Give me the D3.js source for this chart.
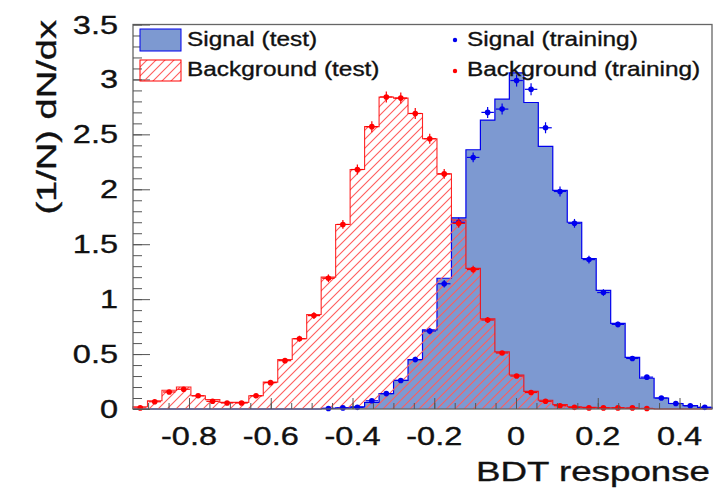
<!DOCTYPE html>
<html lang="en">
<head>
    <meta charset="UTF-8">
    <title> BDT response </title>
    <style>
        body { margin: 0; background: #fff; }
        text { font-family: "Liberation Sans", Arial, Helvetica, sans-serif; fill: #111; stroke: #111; stroke-width: 0.35; }
    </style>
</head>
<body>
    <div id="svg-container"></div>
    <script src="https://cdnjs.cloudflare.com/ajax/libs/d3/7.8.5/d3.min.js"></script>
    <script>
        // histogram range and binning (40 bins)
        const xMin = -0.937, xMax = 0.4795, nBins = 40;

        // normalised bin contents
        const sigTest = [0,0,0,0,0,0,0,0,0,0,0,0,0,0.005,0.01,0.02,0.06,0.14,0.26,0.45,
                         0.72,1.19,1.74,2.36,2.63,2.82,3.06,2.79,2.39,1.99,1.70,1.37,1.08,0.78,0.47,0.28,0.10,0.05,0.03,0.015];
        const bkgTest = [0.02,0.075,0.17,0.2,0.12,0.085,0.06,0.06,0.12,0.245,0.45,0.64,0.86,1.2,1.68,2.18,2.57,2.84,2.83,2.69,
                         2.46,2.14,1.72,1.28,0.82,0.52,0.31,0.16,0.08,0.04,0.02,0.015,0.01,0.01,0.005,0.005,0,0,0,0];
        const sigTrain = [null,null,null,null,null,null,null,null,null,null,null,null,null,0.005,0.01,0.015,0.075,0.14,0.26,0.45,
                          0.71,1.14,1.70,2.29,2.70,2.73,2.99,2.91,2.56,1.98,1.69,1.36,1.06,0.77,0.46,0.29,0.10,0.05,0.03,0.015];
        const sigTrainErr = [0,0,0,0,0,0,0,0,0,0,0,0,0,0.003,0.005,0.007,0.012,0.015,0.02,0.025,
                             0.03,0.035,0.04,0.045,0.05,0.05,0.055,0.055,0.05,0.045,0.04,0.035,0.03,0.025,0.02,0.015,0.01,0.007,0.005,0.004];
        const bkgTrain = [0.01,0.066,0.155,0.18,0.12,0.07,0.055,0.055,0.12,0.24,0.44,0.64,0.85,1.19,1.68,2.18,2.57,2.84,2.83,2.69,
                          2.46,2.14,1.69,1.27,0.81,0.51,0.30,0.15,0.07,0.03,0.015,0.01,0.01,0.01,0.01,0.005,null,null,null,null];
        const bkgTrainErr = [0.005,0.01,0.015,0.015,0.012,0.01,0.008,0.008,0.012,0.017,0.022,0.027,0.03,0.035,0.04,0.045,0.05,0.05,0.05,0.05,
                             0.045,0.045,0.04,0.035,0.028,0.022,0.017,0.012,0.008,0.006,0.004,0.003,0.003,0.003,0.003,0.002,0,0,0,0];

        const xTicks = [-0.8, -0.6, -0.4, -0.2, 0, 0.2, 0.4];
        const xTickLabels = ["-0.8", "-0.6", "-0.4", "-0.2", "0", "0.2", "0.4"];
        const yTicks = [0, 0.5, 1, 1.5, 2, 2.5, 3, 3.5];
        const yTickLabels = ["0", "0.5", "1", "1.5", "2", "2.5", "3", "3.5"];

        const W = 723, H = 492;
        const sigFill = "#7d99d1", sigLine = "#0000ee", bkgLine = "#ff0000";

        const svg = d3.select('#svg-container')
            .append('svg')
            .attr('width', W)
            .attr('height', H);

        const x = d3.scaleLinear().domain([xMin, xMax]).range([133, 712]);
        const y = d3.scaleLinear().domain([0, 3.5]).range([409, 24.5]);
        const bw = (xMax - xMin) / nBins;
        const edge = i => xMin + i * bw;

        // hatch pattern for background
        svg.append('defs').append('pattern')
            .attr('id', 'hatch')
            .attr('patternUnits', 'userSpaceOnUse')
            .attr('width', 9).attr('height', 9)
            .append('path')
            .attr('d', 'M-2,11 L11,-2 M-2,2 L2,-2 M7,11 L11,7')
            .attr('stroke', '#ff5c5c')
            .attr('stroke-width', 1.1);

        function stepPts(vals) {
            const pts = vals.map((v, i) => [edge(i), v]);
            pts.push([edge(nBins), vals[nBins - 1]]);
            return pts;
        }
        const area = d3.area().curve(d3.curveStepAfter)
            .x(d => x(d[0])).y0(y(0)).y1(d => y(d[1]));
        function outline(vals) {
            const p = d3.path();
            p.moveTo(x(edge(0)), y(0));
            vals.forEach((v, i) => {
                p.lineTo(x(edge(i)), y(v));
                p.lineTo(x(edge(i + 1)), y(v));
            });
            p.lineTo(x(edge(nBins)), y(0));
            return p.toString();
        }

        const plot = svg.append('g');

        // signal (test)
        plot.append('path').attr('d', area(stepPts(sigTest))).attr('fill', sigFill);
        plot.append('path').attr('d', outline(sigTest))
            .attr('fill', 'none').attr('stroke', sigLine).attr('stroke-width', 1.2);

        // background (test)
        plot.append('path').attr('d', area(stepPts(bkgTest))).attr('fill', 'url(#hatch)');
        plot.append('path').attr('d', outline(bkgTest))
            .attr('fill', 'none').attr('stroke', bkgLine).attr('stroke-width', 1.1).attr('stroke-opacity', 0.85);

        // training points with error bars
        function drawPoints(vals, errs, col) {
            const data = vals.map((v, i) => ({ v, e: errs[i], c: edge(i) + bw / 2, i }))
                .filter(d => d.v !== null);
            const g = plot.append('g').attr('stroke', col).attr('fill', col);
            g.selectAll('line.h').data(data).join('line')
                .attr('x1', d => x(d.c - bw / 2) + 1).attr('x2', d => x(d.c + bw / 2) - 1)
                .attr('y1', d => y(d.v)).attr('y2', d => y(d.v))
                .attr('stroke-width', 1.2);
            g.selectAll('line.v').data(data.filter(d => y(d.v - d.e) - y(d.v + d.e) > 5)).join('line')
                .attr('x1', d => x(d.c)).attr('x2', d => x(d.c))
                .attr('y1', d => y(d.v - d.e)).attr('y2', d => y(d.v + d.e))
                .attr('stroke-width', 1.2);
            g.selectAll('circle').data(data).join('circle')
                .attr('cx', d => x(d.c)).attr('cy', d => y(d.v)).attr('r', 2.8)
                .attr('stroke', 'none');
        }
        drawPoints(sigTrain, sigTrainErr, sigLine);
        drawPoints(bkgTrain, bkgTrainErr, bkgLine);

        // frame
        svg.append('rect')
            .attr('x', x(xMin)).attr('y', y(3.5))
            .attr('width', x(xMax) - x(xMin)).attr('height', y(0) - y(3.5))
            .attr('fill', 'none').attr('stroke', '#666').attr('stroke-width', 1.3);

        // axis ticks (inward)
        const yMinor = d3.range(0, 3.5001, 0.1);
        svg.append('g').attr('transform', `translate(${x(xMin)},0)`)
            .call(d3.axisLeft(y).tickValues(yMinor).tickSize(-9).tickFormat(''))
            .call(g => g.select('.domain').remove())
            .selectAll('line').attr('stroke', '#555');
        svg.append('g').attr('transform', `translate(${x(xMin)},0)`)
            .call(d3.axisLeft(y).tickValues(yTicks).tickSize(-17).tickFormat(''))
            .call(g => g.select('.domain').remove())
            .selectAll('line').attr('stroke', '#555');
        const xMinor = d3.range(-0.9, 0.4501, 0.05);
        svg.append('g').attr('transform', `translate(0,${y(0)})`)
            .call(d3.axisBottom(x).tickValues(xMinor).tickSize(-6).tickFormat(''))
            .call(g => g.select('.domain').remove())
            .selectAll('line').attr('stroke', '#555');
        svg.append('g').attr('transform', `translate(0,${y(0)})`)
            .call(d3.axisBottom(x).tickValues(xTicks).tickSize(-11).tickFormat(''))
            .call(g => g.select('.domain').remove())
            .selectAll('line').attr('stroke', '#555');

        // stretched text helper (the picture's glyphs are wide)
        function label(px, py, str, size, anchor, sx, rot) {
            svg.append('text')
                .attr('transform', `translate(${px},${py})` + (rot ? ` rotate(${rot})` : '') + ` scale(${sx},1)`)
                .attr('text-anchor', anchor)
                .attr('font-size', size)
                .text(str);
        }

        yTicks.forEach((v, i) => label(118, y(v) + 9, yTickLabels[i], 25, 'end', 1.3));
        xTicks.forEach((v, i) => label(x(v), 445, xTickLabels[i], 25, 'middle', 1.3));
        label(710, 481, "BDT response", 27, 'end', 1.36);
        label(56, 20, "(1/N) dN/dx", 28, 'end', 1.36, -90);

        // legend
        const leg = svg.append('g');
        leg.append('rect').attr('x', 140).attr('y', 29).attr('width', 41).attr('height', 22)
            .attr('fill', sigFill).attr('stroke', sigLine).attr('stroke-width', 1);
        leg.append('rect').attr('x', 140).attr('y', 60).attr('width', 41).attr('height', 21)
            .attr('fill', 'url(#hatch)').attr('stroke', bkgLine).attr('stroke-width', 1);
        leg.append('circle').attr('cx', 455).attr('cy', 40).attr('r', 2.2).attr('fill', sigLine);
        leg.append('circle').attr('cx', 455).attr('cy', 71).attr('r', 2.2).attr('fill', bkgLine);
        label(187, 46, "Signal (test)", 20, 'start', 1.22);
        label(187, 76, "Background (test)", 20, 'start', 1.22);
        label(467, 46, "Signal (training)", 20, 'start', 1.22);
        label(467, 76, "Background (training)", 20, 'start', 1.22);
    </script>
</body>
</html>
